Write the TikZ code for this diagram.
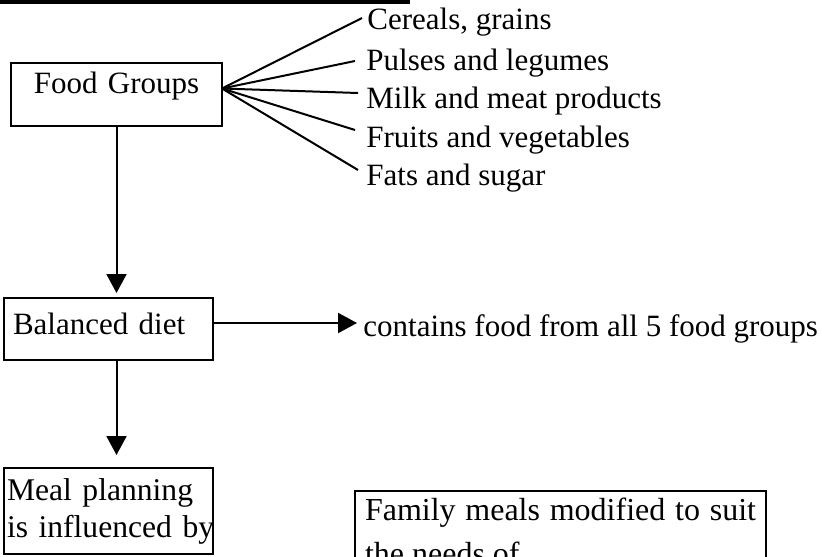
\documentclass[tikz,border=0pt]{standalone}
\usepackage{fontspec}
\setmainfont{Liberation Serif}
\usetikzlibrary{arrows.meta}

\tikzset{
    box/.style={draw, line width=1pt, outer sep=0pt, inner ysep=0pt, inner xsep=4.5pt,
        font=\fontsize{15.5}{18.5}\selectfont},
    item/.style={anchor=base west, inner sep=0pt, font=\fontsize{15.5}{18.5}\selectfont},
    arr/.style={line width=1pt, -{Triangle[length=9.5pt,width=10pt]}}
}

\begin{document}
\begin{tikzpicture}[x=0.5pt,y=-0.5pt]
    \useasboundingbox (0,0) rectangle (822,556);
    \clip (0,0) rectangle (822,556);

    % Bar at the top
    \fill (0,0) rectangle (410,4);

    % Food Groups box
    \node[box, anchor=base, text width=96.5pt, align=center,
        text height=15pt, text depth=16.5pt] (fg) at (116.5,93) {Food Groups};

    % The five groups
    \node[item] (c1) at (367,30) {Cereals, grains};
    \node[item] (c2) at (366,70) {Pulses and legumes};
    \node[item] (c3) at (366,108) {Milk and meat products};
    \node[item] (c4) at (366,147) {Fruits and vegetables};
    \node[item] (c5) at (366,185) {Fats and sugar};

    \foreach \n/\dx/\dy in {c1/5/12, c2/11/9, c3/8/15, c4/11/17, c5/8/15}
        \draw[line width=1pt] ([yshift=3pt]fg.east) -- ([shift={(-\dx,-\dy)}]\n.base west);

    % Balanced diet box
    \node[box, anchor=base west, text width=95.5pt, align=left,
        text height=18pt, text depth=13pt] (bd) at (4,334) {Balanced diet};
    \node[item] (ct) at (363,336) {contains food from all 5 food groups};
    \draw[arr] ([yshift=3pt]bd.east) -- ([yshift=3pt,xshift=-3pt]bd.east -| ct.west);

    % Meal planning box
    \node[box, anchor=base west, inner xsep=1.5pt, text width=101.5pt, align=left,
        font=\fontsize{15.8}{18.5}\selectfont,
        text height=16pt, text depth=27pt] (mp) at (4,500)
        {\mbox{Meal planning}\\\mbox{is influenced by}};

    % Family meals box
    \node[box, anchor=base west, inner xsep=5pt, text width=195.5pt, align=justify,
        font=\fontsize{16}{22}\selectfont,
        text height=14.5pt, text depth=60pt] (fm) at (355,520)
        {Family meals modified to suit\linebreak the needs of};

    % Arrows down
    \draw[arr, shorten >=2.5pt] (fg.south) -- (fg.south |- bd.north);
    \draw[arr, shorten >=6.5pt] (fg.south |- bd.south) -- (fg.south |- mp.north);
\end{tikzpicture}
\end{document}
